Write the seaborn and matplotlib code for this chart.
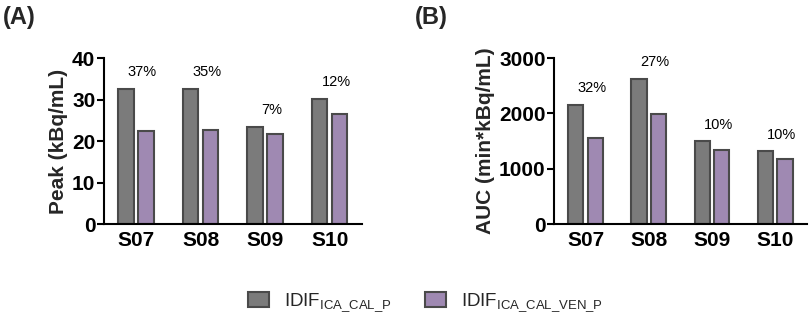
import matplotlib
matplotlib.use('Agg')
import matplotlib.pyplot as plt
import numpy as np
import pandas as pd
import seaborn as sns

subjects = ['S07', 'S08', 'S09', 'S10']
series = [r'IDIF$\mathregular{_{ICA\_CAL\_P}}$', r'IDIF$\mathregular{_{ICA\_CAL\_VEN\_P}}$']
peak_cal_p = [32.5, 32.5, 23.4, 30.1]
peak_cal_ven_p = [22.4, 22.6, 21.7, 26.5]
auc_cal_p = [2150, 2620, 1495, 1315]
auc_cal_ven_p = [1555, 1990, 1345, 1180]
peak_pct = ['37%', '35%', '7%', '12%']
auc_pct = ['32%', '27%', '10%', '10%']

colors = ['#7b7b7b', '#a082b9']
edge = '#4a4a4a'

sns.set_theme(style='ticks')
plt.rcParams['font.family'] = ['Liberation Sans', 'DejaVu Sans']


def long_df(a, b):
    return pd.DataFrame({
        'subject': subjects * 2,
        'value': a + b,
        'series': [series[0]] * 4 + [series[1]] * 4,
    })


fig = plt.figure(figsize=(8.1, 3.17), dpi=100)
ax_a = fig.add_axes([0.128, 0.293, 0.319, 0.524])
ax_b = fig.add_axes([0.684, 0.293, 0.312, 0.524])

panels = [
    (ax_a, peak_cal_p, peak_cal_ven_p, peak_pct, 40, 10, 'Peak (kBq/mL)'),
    (ax_b, auc_cal_p, auc_cal_ven_p, auc_pct, 3000, 1000, 'AUC (min*kBq/mL)'),
]

for ax, a, b, pct, ymax, step, ylabel in panels:
    sns.barplot(data=long_df(a, b), x='subject', y='value', hue='series',
                palette=colors, width=0.62, gap=0.23, edgecolor=edge,
                linewidth=1.5, ax=ax, legend=True)
    ax.set_ylim(0, ymax)
    ax.set_xlim(-0.5, 3.5)
    ax.set_yticks(np.arange(0, ymax + step, step))
    ax.set_xlabel('')
    ax.set_ylabel(ylabel, fontsize=15, fontweight='bold', labelpad=3)
    for lab in ax.get_xticklabels() + ax.get_yticklabels():
        lab.set_fontweight('bold')
        lab.set_fontsize(15)
    ax.tick_params(axis='y', length=5, width=1.5, pad=1, colors='black')
    ax.tick_params(axis='x', length=0, pad=5, colors='black')
    sns.despine(ax=ax)
    for sp in ['left', 'bottom']:
        ax.spines[sp].set_linewidth(1.5)
        ax.spines[sp].set_color('black')
    for i, t in enumerate(pct):
        ax.annotate(t, xy=(i + 0.1, max(a[i], b[i])), xytext=(0, 12),
                    textcoords='offset points', ha='center', va='center',
                    fontsize=10.5, color='black')
    handles, labels = ax.get_legend_handles_labels()
    ax.get_legend().remove()

fig.text(0.004, 0.945, '(A)', fontsize=17, fontweight='bold', ha='left', va='center')
fig.text(0.512, 0.945, '(B)', fontsize=17, fontweight='bold', ha='left', va='center')

fig.legend(handles, labels, loc='center', bbox_to_anchor=(0.525, 0.045), ncol=2,
           frameon=False, fontsize=13.5, handlelength=1.1, handleheight=0.9,
           columnspacing=1.8, handletextpad=0.8)

fig.savefig('out.png', dpi=100)
